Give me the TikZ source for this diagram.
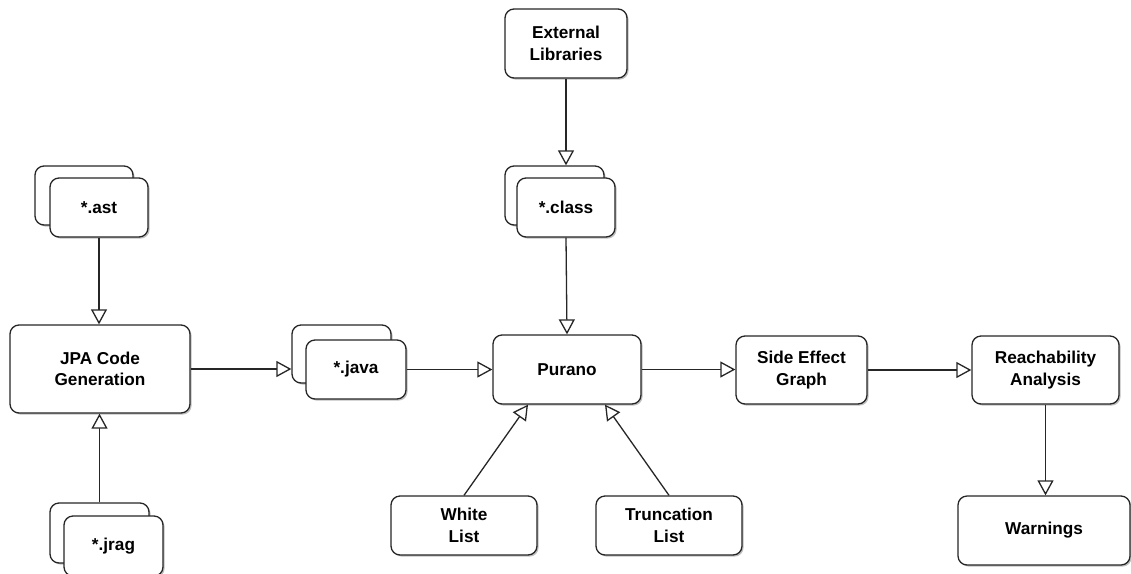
\documentclass[tikz,border=0pt]{standalone}
\usepackage{fontspec}
\setmainfont{Liberation Sans}
\usetikzlibrary{arrows.meta,shadows}
\begin{document}
\begin{tikzpicture}[x=1pt,y=-1pt,
  box/.style={draw=black!85, line width=1.3pt, fill=white, rounded corners=9pt,
    align=center, inner sep=0pt, font=\bfseries\fontsize{17.2}{21.5}\selectfont,
    drop shadow={shadow xshift=1.6pt, shadow yshift=-1.6pt, opacity=0.25, fill=black}},
  flow/.style={draw=black!85, line width=1.3pt,
    -{Triangle[open, length=15pt, width=16pt, fill=white]}}]
\path[use as bounding box] (0,0) rectangle (1131,573);

% stacked file boxes (back sheets first)
\node[box, minimum width=99pt, minimum height=59pt] (classback) at (554.5,195.5) {};
\node[box, minimum width=98pt, minimum height=59pt] (class) at (566,207.5) {*.class};
\node[box, minimum width=98pt, minimum height=59pt] (astback) at (84,195.5) {};
\node[box, minimum width=98pt, minimum height=59pt] (ast) at (99,207.5) {*.ast};
\node[box, minimum width=99pt, minimum height=60pt] (jragback) at (99.5,533) {};
\node[box, minimum width=99pt, minimum height=60pt] (jrag) at (113.5,546) {*.jrag};
\node[box, minimum width=99pt, minimum height=58pt] (javaback) at (341.5,354) {};
\node[box, minimum width=100pt, minimum height=59pt] (java) at (356,369.5) {*.java};

% processing steps
\node[box, minimum width=122pt, minimum height=69pt] (ext) at (566,43.5) {External\\Libraries};
\node[box, minimum width=180pt, minimum height=88pt] (jpa) at (100,369) {JPA Code\\Generation};
\node[box, minimum width=148pt, minimum height=69pt] (purano) at (567,369.5) {Purano};
\node[box, minimum width=131pt, minimum height=68pt] (seg) at (801.5,370) {Side Effect\\Graph};
\node[box, minimum width=147pt, minimum height=68pt] (reach) at (1045.5,370) {Reachability\\Analysis};
\node[box, minimum width=172pt, minimum height=69pt] (warn) at (1044,530.5) {Warnings};
\node[box, minimum width=146pt, minimum height=59pt] (white) at (464,525.5) {White\\List};
\node[box, minimum width=146pt, minimum height=59pt] (trunc) at (669,525.5) {Truncation\\List};

% connectors
\draw[flow] (ext.south) -- (ext.south |- classback.north);
\draw[flow] (class.south) -- (purano.north);
\draw[flow] (ast.south) -- (ast.south |- jpa.north);
\draw[flow] (jragback.north) -- (jragback.north |- jpa.south);
\draw[flow] (jpa.east) -- (jpa.east -| javaback.west);
\draw[flow] (java.east) -- (java.east -| purano.west);
\draw[flow] (purano.east) -- (purano.east -| seg.west);
\draw[flow] (seg.east) -- (reach.west);
\draw[flow] (reach.south) -- (reach.south |- warn.north);
\draw[flow] (white.north) -- ([xshift=-39pt]purano.south);
\draw[flow] (trunc.north) -- ([xshift=38pt]purano.south);
\end{tikzpicture}
\end{document}
